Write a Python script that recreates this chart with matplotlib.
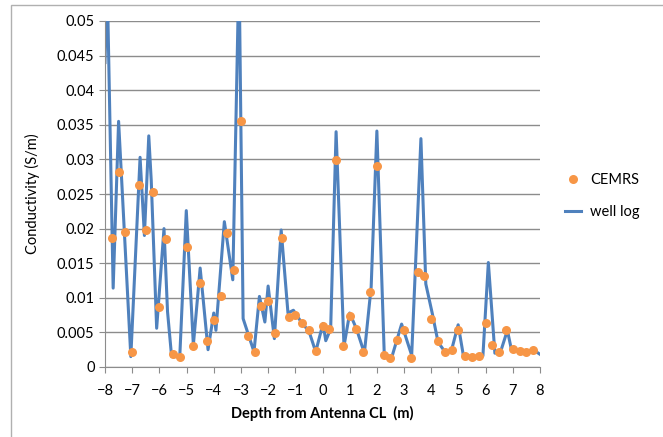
import numpy as np
import matplotlib.pyplot as plt
from matplotlib.patches import Rectangle

# CEMRS estimates, every 0.25 m
cemrs_depth = np.arange(-7.75, 7.76, 0.25)
cemrs_cond = [0.0186, 0.0282, 0.0195, 0.0021, 0.0263, 0.0198, 0.0253, 0.0086,
              0.0185, 0.0019, 0.0015, 0.0174, 0.0031, 0.0121, 0.0038, 0.0068,
              0.0103, 0.0193, 0.0140, 0.0355, 0.0045, 0.0022, 0.0088, 0.0096,
              0.0049, 0.0187, 0.0072, 0.0075, 0.0064, 0.0054, 0.0023, 0.0059,
              0.0055, 0.0299, 0.0031, 0.0074, 0.0055, 0.0022, 0.0108, 0.0290,
              0.0017, 0.0013, 0.0039, 0.0054, 0.0013, 0.0137, 0.0131, 0.0069,
              0.0037, 0.0021, 0.0025, 0.0053, 0.0016, 0.0015, 0.0016, 0.0064,
              0.0032, 0.0022, 0.0053, 0.0026, 0.0023, 0.0022, 0.0025]

# well log (peaks and troughs)
log_depth = [-8.0, -7.92, -7.70, -7.50, -7.40, -7.05, -6.71, -6.55, -6.39, -6.30,
             -6.10, -5.83, -5.70, -5.55, -5.25, -5.01, -4.75, -4.50, -4.21, -4.00,
             -3.92, -3.61, -3.30, -3.07, -2.92, -2.52, -2.32, -2.12, -2.00, -1.77,
             -1.52, -1.27, -1.07, -0.75, -0.50, -0.25, 0.02, 0.12, 0.30, 0.50,
             0.79, 1.00, 1.25, 1.54, 1.79, 2.00, 2.27, 2.54, 2.91, 3.28,
             3.62, 3.80, 4.04, 4.25, 4.54, 4.75, 4.99, 5.18, 5.50, 5.90,
             6.10, 6.34, 6.55, 6.80, 6.95, 7.50, 7.75, 8.05]
log_cond = [0.044, 0.056, 0.0114, 0.0355, 0.028, 0.0015, 0.0303, 0.019, 0.0334, 0.027,
            0.0056, 0.020, 0.008, 0.0015, 0.0015, 0.0226, 0.0032, 0.0143, 0.0025, 0.0078,
            0.0053, 0.021, 0.0126, 0.058, 0.007, 0.0022, 0.0102, 0.0065, 0.0117, 0.0041,
            0.0198, 0.0078, 0.0082, 0.0063, 0.0052, 0.0022, 0.0063, 0.0038, 0.0055, 0.034,
            0.0030, 0.0078, 0.0055, 0.0020, 0.0116, 0.0341, 0.0020, 0.0013, 0.0062, 0.0017,
            0.033, 0.012, 0.0077, 0.0036, 0.0020, 0.0025, 0.0061, 0.0017, 0.0015, 0.0016,
            0.0151, 0.0020, 0.0022, 0.0053, 0.0025, 0.0022, 0.0025, 0.0017]

plt.rcParams['font.family'] = ['Lato', 'DejaVu Sans']

fig = plt.figure(figsize=(6.63, 4.37), dpi=100)
ax = fig.add_axes([105/663, 1-367/437, 435/663, 346/437])

ax.plot(cemrs_depth, cemrs_cond, 'o', color='#F79646', markersize=6.5,
        markeredgewidth=0, label='CEMRS', zorder=3)
ax.plot(log_depth, log_cond, '-', color='#4F81BD', linewidth=2.2,
        solid_joinstyle='round', label='well log', zorder=2)

ax.set_xlim(-8, 8)
ax.set_ylim(0, 0.05)
ax.set_xticks(range(-8, 9))
ax.set_yticks(np.arange(0, 0.0501, 0.005))
ax.set_yticklabels(['0', '0.005', '0.01', '0.015', '0.02', '0.025', '0.03',
                    '0.035', '0.04', '0.045', '0.05'])
ax.grid(axis='y', color='#8c8c8c', linewidth=1)
ax.set_axisbelow(True)
for s in ['top', 'right']:
    ax.spines[s].set_visible(False)
for s in ['left', 'bottom']:
    ax.spines[s].set_color('#8c8c8c')
ax.tick_params(axis='both', colors='#8c8c8c', labelcolor='black', labelsize=10.5,
               length=4, direction='out')
ax.tick_params(axis='x', pad=8)

ax.set_xlabel('Depth from Antenna CL  (m)', fontsize=10.5, fontweight='bold', labelpad=6)
ax.set_ylabel('Conductivity (S/m)', fontsize=10.5, labelpad=12)

ax.legend(loc='center left', bbox_to_anchor=(558/663, 1-196/437),
          bbox_transform=fig.transFigure, frameon=False, fontsize=10.5,
          handlelength=1.1, handletextpad=0.6, labelspacing=1.2, borderpad=0)

fig.patches.append(Rectangle((11/663, -0.1), 1.2, 1 - 5/437 + 0.1,
                             transform=fig.transFigure, fill=False,
                             edgecolor='#b0b0b0', linewidth=1))

fig.savefig('out.png', dpi=100)
